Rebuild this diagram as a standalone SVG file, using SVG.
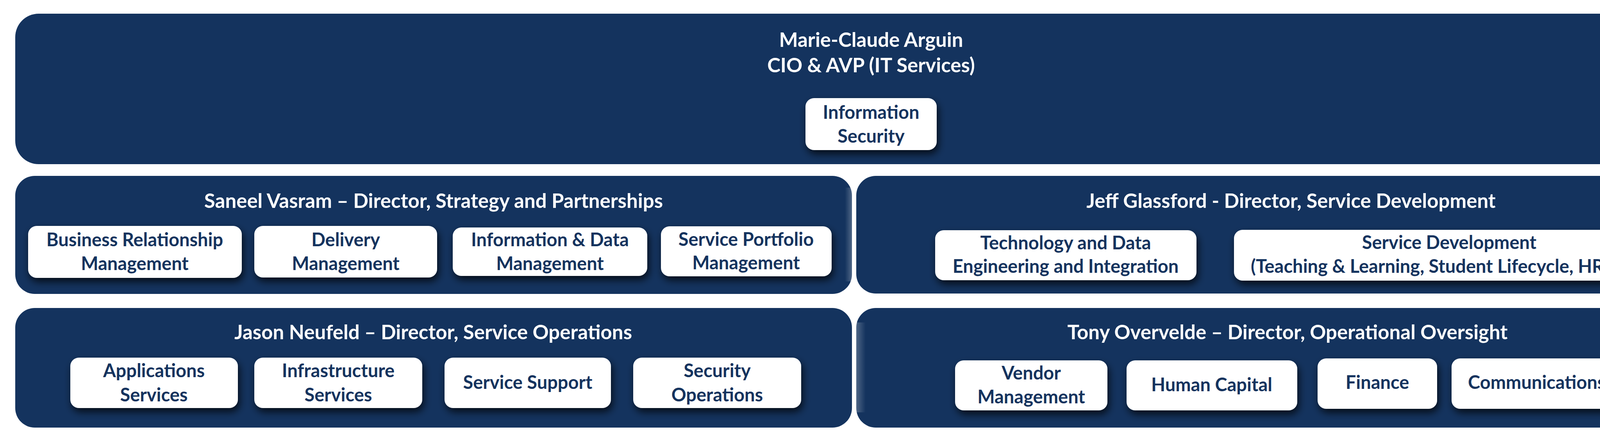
<svg xmlns="http://www.w3.org/2000/svg" width="4460" height="1136" viewBox="0 0 4460 1136">
<defs>
<filter id="sh" x="-20%" y="-30%" width="140%" height="170%">
<feDropShadow dx="4" dy="10" stdDeviation="10" flood-color="#000000" flood-opacity="0.75"/>
</filter>
<linearGradient id="fadeR" x1="0" y1="0" x2="1" y2="0">
<stop offset="0" stop-color="#FFFFFF" stop-opacity="0"/>
<stop offset="1" stop-color="#FFFFFF" stop-opacity="0.25"/>
</linearGradient>
<linearGradient id="fadeL" x1="1" y1="0" x2="0" y2="0">
<stop offset="0" stop-color="#FFFFFF" stop-opacity="0"/>
<stop offset="1" stop-color="#FFFFFF" stop-opacity="0.25"/>
</linearGradient>
<style>
.unit{fill:#14335E;}
.box{fill:#FFFFFF;filter:url(#sh);}
.t{font-family:Lato,"Open Sans","Liberation Sans",sans-serif;font-weight:700;font-size:47px;text-anchor:middle;}
.h{font-size:51px;}
.w{fill:#FFFFFF;}
.n{fill:#14335E;}
</style>
</defs>
<rect width="4460" height="1136" fill="#FFFFFF"/>
<g id="connectors"/>
<g id="cio">
<rect class="unit" x="39" y="35" width="4382" height="385" rx="60"/>
<text class="t h w" x="2230" y="120">Marie-Claude Arguin</text>
<text class="t h w" x="2230" y="185">CIO &amp; AVP (IT Services)</text>
<g id="infosec">
<rect class="box" x="2062" y="251" width="336" height="133" rx="22"/>
<text class="t n" x="2230" y="304">Information</text>
<text class="t n" x="2230" y="365">Security</text>
</g>
</g>
<g id="strategy">
<rect class="unit" x="39" y="450" width="2142" height="302" rx="50"/>
<rect x="2163" y="480" width="18" height="240" fill="url(#fadeR)"/>
<text class="t h w" x="1110" y="532">Saneel Vasram – Director, Strategy and Partnerships</text>
<g id="brm">
<rect class="box" x="72" y="578" width="547" height="133" rx="22"/>
<text class="t n" x="345" y="630">Business Relationship</text>
<text class="t n" x="345" y="691">Management</text>
</g>
<g id="delivery">
<rect class="box" x="651" y="578" width="468" height="132" rx="22"/>
<text class="t n" x="885" y="630">Delivery</text>
<text class="t n" x="885" y="691">Management</text>
</g>
<g id="idm">
<rect class="box" x="1159" y="582" width="498" height="124" rx="22"/>
<text class="t n" x="1408" y="630">Information &amp; Data</text>
<text class="t n" x="1408" y="691">Management</text>
</g>
<g id="spm">
<rect class="box" x="1692" y="579" width="437" height="128" rx="22"/>
<text class="t n" x="1910" y="629">Service Portfolio</text>
<text class="t n" x="1910" y="689">Management</text>
</g>
</g>
<g id="development">
<rect class="unit" x="2192" y="450" width="2229" height="301" rx="50"/>
<text class="t h w" x="3305" y="532">Jeff Glassford - Director, Service Development</text>
<g id="tdei">
<rect class="box" x="2394" y="589" width="669" height="128" rx="22"/>
<text class="t n" x="2728" y="638">Technology and Data</text>
<text class="t n" x="2728" y="698">Engineering and Integration</text>
</g>
<g id="servdev">
<rect class="box" x="3159" y="588" width="1102" height="130" rx="22"/>
<text class="t n" x="3710" y="637">Service Development</text>
<text class="t n" x="3710" y="698">(Teaching &amp; Learning, Student Lifecycle, HR, FIN)</text>
</g>
</g>
<g id="operations">
<rect class="unit" x="39" y="788" width="2142" height="306" rx="50"/>
<text class="t h w" x="1109" y="868">Jason Neufeld – Director, Service Operations</text>
<g id="apps">
<rect class="box" x="180" y="915" width="429" height="129" rx="22"/>
<text class="t n" x="394" y="965">Applications</text>
<text class="t n" x="394" y="1027">Services</text>
</g>
<g id="infra">
<rect class="box" x="651" y="915" width="430" height="129" rx="22"/>
<text class="t n" x="866" y="965">Infrastructure</text>
<text class="t n" x="866" y="1027">Services</text>
</g>
<g id="support">
<rect class="box" x="1138" y="915" width="426" height="129" rx="22"/>
<text class="t n" x="1351" y="995">Service Support</text>
</g>
<g id="secops">
<rect class="box" x="1621" y="915" width="430" height="129" rx="22"/>
<text class="t n" x="1836" y="965">Security</text>
<text class="t n" x="1836" y="1027">Operations</text>
</g>
</g>
<g id="oversight">
<rect class="unit" x="2192" y="788" width="2210" height="306" rx="50"/>
<rect x="2192" y="825" width="24" height="230" fill="url(#fadeL)"/>
<text class="t h w" x="3296" y="868">Tony Overvelde – Director, Operational Oversight</text>
<g id="vendor">
<rect class="box" x="2445" y="922" width="390" height="128" rx="22"/>
<text class="t n" x="2640" y="971">Vendor</text>
<text class="t n" x="2640" y="1032">Management</text>
</g>
<g id="hc">
<rect class="box" x="2884" y="922" width="437" height="128" rx="22"/>
<text class="t n" x="3102" y="1001">Human Capital</text>
</g>
<g id="finance">
<rect class="box" x="3373" y="917" width="306" height="129" rx="22"/>
<text class="t n" x="3526" y="995">Finance</text>
</g>
<g id="comms">
<rect class="box" x="3716" y="917" width="437" height="129" rx="22"/>
<text class="t n" x="3934" y="995">Communications</text>
</g>
</g>
</svg>
